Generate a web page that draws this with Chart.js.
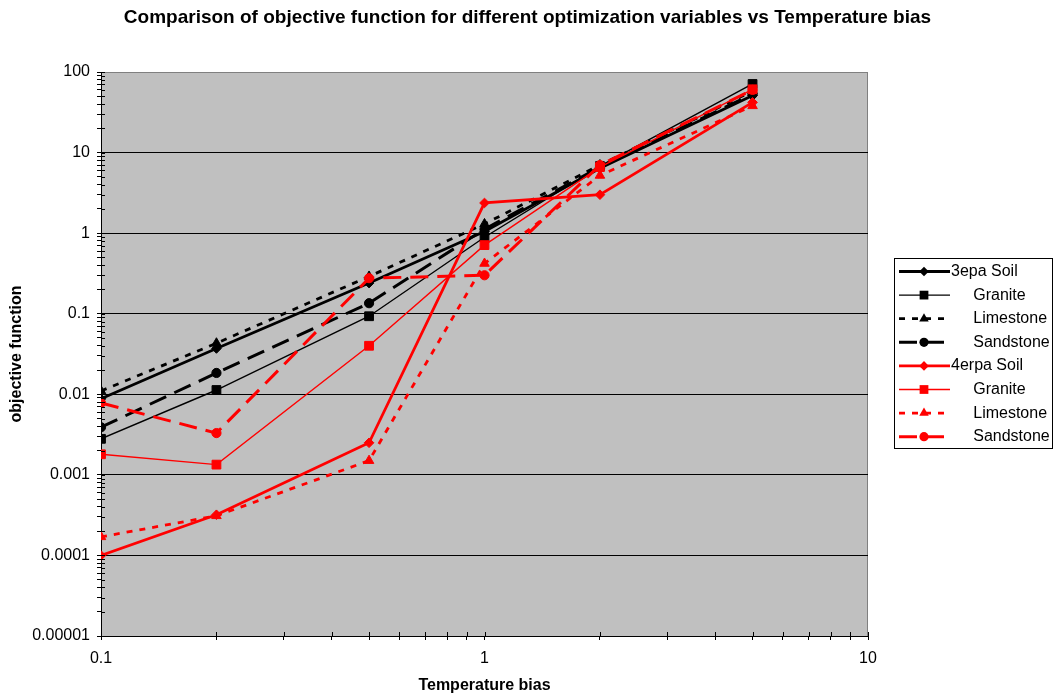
<!DOCTYPE html>
<html><head><meta charset="utf-8">
<script src="https://cdn.jsdelivr.net/npm/chart.js@4.4.1/dist/chart.umd.min.js"></script>
<style>html,body{margin:0;padding:0;background:#fff;}#wrap{width:1055px;height:698px;position:relative;}</style>
</head><body><div id="wrap"><canvas id="c" width="1055" height="698"></canvas></div>
<script>
const temperatureBias = [0.1, 0.2, 0.5, 1, 2, 5];
const seriesLabels = ['3epa Soil', '     Granite', '     Limestone', '     Sandstone',
                      '4erpa Soil', '     Granite', '     Limestone', '     Sandstone'];
const zepaSoil      = [0.0088, 0.037, 0.24, 1.05, 6.4, 51];
const zepaGranite   = [0.0028, 0.0113, 0.093, 0.89, 6.8, 71];
const zepaLimestone = [0.011, 0.043, 0.29, 1.3, 7.0, 58];
const zepaSandstone = [0.0039, 0.0184, 0.135, 1.12, 6.6, 53];
const cherpaSoil      = [0.0001, 0.00032, 0.0025, 2.37, 3.0, 42];
const cherpaGranite   = [0.0018, 0.00134, 0.040, 0.71, 6.6, 61];
const cherpaLimestone = [0.00017, 0.00031, 0.0015, 0.42, 5.2, 38];
const cherpaSandstone = [0.0078, 0.0033, 0.276, 0.30, 7.0, 60];
const yTickLabels = ['0.00001', '0.0001', '0.001', '0.01', '0.1', '1', '10', '100'];
const xTickLabels = ['0.1', '1', '10'];

const FONT = "Arial, 'Liberation Sans', sans-serif";
const seriesValues = [zepaSoil, zepaGranite, zepaLimestone, zepaSandstone,
                      cherpaSoil, cherpaGranite, cherpaLimestone, cherpaSandstone];
const styleFor = (i) => {
  const color = i < 4 ? '#000000' : '#FF0000';
  const k = i % 4;
  const base = [
    {borderWidth: 2.8, borderDash: [], pointStyle: 'rectRot', pointRadius: 4.8},
    {borderWidth: 1.4, borderDash: [], pointStyle: 'rect', pointRadius: 6.2},
    {borderWidth: 2.8, borderDash: [6, 7], pointStyle: 'triangle', pointRadius: 5.5},
    {borderWidth: 3, borderDash: [18, 9], pointStyle: 'circle', pointRadius: 4.6}
  ][k];
  return Object.assign({borderColor: color, backgroundColor: color,
    pointBackgroundColor: color, pointBorderColor: color, pointBorderWidth: 1}, base);
};

const datasets = seriesValues.map((vals, i) => Object.assign({
  label: seriesLabels[i],
  data: temperatureBias.map((x, j) => ({x: x, y: vals[j]})),
  fill: false, tension: 0, order: 8 - i
}, styleFor(i)));

const isDecade = v => Math.abs(Math.log10(v) - Math.round(Math.log10(v))) < 1e-9;
const logTicks = (minExp, maxExp) => {
  const out = [];
  for (let e = minExp; e < maxExp; e++) {
    for (let m = 1; m < 10; m++) out.push({value: m * Math.pow(10, e)});
  }
  out.push({value: Math.pow(10, maxExp)});
  return out;
};
const fmt = v => {
  const e = Math.round(Math.log10(v));
  return e >= 0 ? String(Math.pow(10, e)) : '0.' + '0'.repeat(-e - 1) + '1';
};

function drawMarker(ctx, style, r, x, y) {
  ctx.beginPath();
  if (style === 'rect') {
    const s = Math.SQRT1_2 * r;
    ctx.rect(x - s, y - s, 2 * s, 2 * s);
  } else if (style === 'rectRot') {
    ctx.moveTo(x, y - r); ctx.lineTo(x + r, y); ctx.lineTo(x, y + r); ctx.lineTo(x - r, y); ctx.closePath();
  } else if (style === 'triangle') {
    ctx.moveTo(x, y - r);
    ctx.lineTo(x + Math.cos(Math.PI / 6) * r, y + r / 2);
    ctx.lineTo(x - Math.cos(Math.PI / 6) * r, y + r / 2);
    ctx.closePath();
  } else {
    ctx.arc(x, y, r, 0, Math.PI * 2);
  }
  ctx.fill();
}

const framePlugin = {
  id: 'frame',
  beforeDraw(chart) {
    const {ctx, chartArea: a} = chart;
    ctx.save();
    ctx.fillStyle = '#C0C0C0';
    ctx.fillRect(a.left, a.top, a.right - a.left, a.bottom - a.top);
    ctx.strokeStyle = '#808080';
    ctx.lineWidth = 1;
    ctx.strokeRect(a.left + 0.5, a.top + 0.5, a.right - a.left - 1, a.bottom - a.top);
    ctx.restore();
  },
  afterDraw(chart) {
    const {ctx, chartArea: a, scales} = chart;
    ctx.save();
    ctx.strokeStyle = '#000'; ctx.lineWidth = 1;
    ctx.beginPath();
    scales.y.ticks.forEach(t => {
      const py = Math.round(scales.y.getPixelForValue(t.value)) + 0.5;
      ctx.moveTo(a.left, py); ctx.lineTo(a.left + 4, py);
    });
    scales.x.ticks.forEach(t => {
      const px = Math.round(scales.x.getPixelForValue(t.value)) + 0.5;
      ctx.moveTo(px, a.bottom); ctx.lineTo(px, a.bottom - 4);
    });
    ctx.stroke();
    // legend
    const lx = 894, ly = 258, lw = 158, lh = 190;
    ctx.fillStyle = '#FFFFFF';
    ctx.fillRect(lx, ly, lw, lh);
    ctx.strokeStyle = '#000'; ctx.lineWidth = 1;
    ctx.strokeRect(lx + 0.5, ly + 0.5, lw, lh);
    chart.data.datasets.forEach((ds, i) => {
      const y = ly + 13.5 + i * 23.6;
      ctx.strokeStyle = ds.borderColor;
      ctx.lineWidth = ds.borderWidth;
      ctx.setLineDash(ds.borderDash);
      ctx.lineDashOffset = 0;
      ctx.beginPath(); ctx.moveTo(lx + 5, y); ctx.lineTo(lx + 56, y); ctx.stroke();
      ctx.setLineDash([]);
      ctx.fillStyle = ds.pointBackgroundColor;
      drawMarker(ctx, ds.pointStyle, ds.pointRadius, lx + 30, y);
      ctx.fillStyle = '#000';
      ctx.font = '16px ' + FONT;
      ctx.textBaseline = 'middle';
      ctx.textAlign = 'left';
      ctx.fillText(ds.label, lx + 57, y);
    });
    ctx.restore();
  }
};

new Chart(document.getElementById('c'), {
  type: 'line',
  data: {datasets},
  plugins: [framePlugin],
  options: {
    responsive: false,
    animation: false,
    devicePixelRatio: 1,
    layout: {padding: {left: 0, right: 0, top: 0, bottom: 0}},
    plugins: {
      legend: {display: false},
      tooltip: {enabled: false},
      title: {
        display: true,
        text: 'Comparison of objective function for different optimization variables vs Temperature bias',
        color: '#000',
        font: {family: FONT, size: 19, weight: 'bold', lineHeight: 1.2},
        padding: {top: 6, bottom: 43.2}
      }
    },
    scales: {
      x: {
        type: 'logarithmic', min: 0.1, max: 10, position: 'bottom',
        afterBuildTicks: s => { s.ticks = logTicks(-1, 1); },
        afterFit: s => { s.height = 62; },
        ticks: {
          autoSkip: false, maxRotation: 0, color: '#000', padding: 9,
          font: {family: FONT, size: 16},
          callback: v => (isDecade(v) && xTickLabels.includes(fmt(v))) ? fmt(v) : ''
        },
        grid: {drawOnChartArea: false, tickLength: 4, tickColor: '#000', color: '#000'},
        border: {color: '#000', width: 1},
        title: {display: true, text: 'Temperature bias', color: '#000',
          font: {family: FONT, size: 16, weight: 'bold'}, padding: {top: 0, bottom: 3}}
      },
      y: {
        type: 'logarithmic', min: 1e-5, max: 100, position: 'left',
        afterBuildTicks: s => { s.ticks = logTicks(-5, 2); },
        afterFit: s => { s.width = 101; },
        ticks: {
          autoSkip: false, color: '#000', padding: 7,
          font: {family: FONT, size: 16},
          callback: v => (isDecade(v) && yTickLabels.includes(fmt(v))) ? fmt(v) : ''
        },
        grid: {
          tickLength: 4,
          color: ctx => (ctx.tick && isDecade(ctx.tick.value) && ctx.tick.value > 1e-5 && ctx.tick.value < 100) ? '#000' : 'rgba(0,0,0,0)',
          tickColor: '#000'
        },
        border: {color: '#000', width: 1},
        title: {display: true, text: 'objective function', color: '#000',
          font: {family: FONT, size: 16, weight: 'bold'}, padding: {top: 7, bottom: 0}}
      },
      yRight: {
        type: 'linear', position: 'right', display: true,
        ticks: {display: false}, grid: {display: false}, border: {display: false},
        afterFit: s => { s.width = 187; }
      }
    }
  }
});
</script>
</body></html>
